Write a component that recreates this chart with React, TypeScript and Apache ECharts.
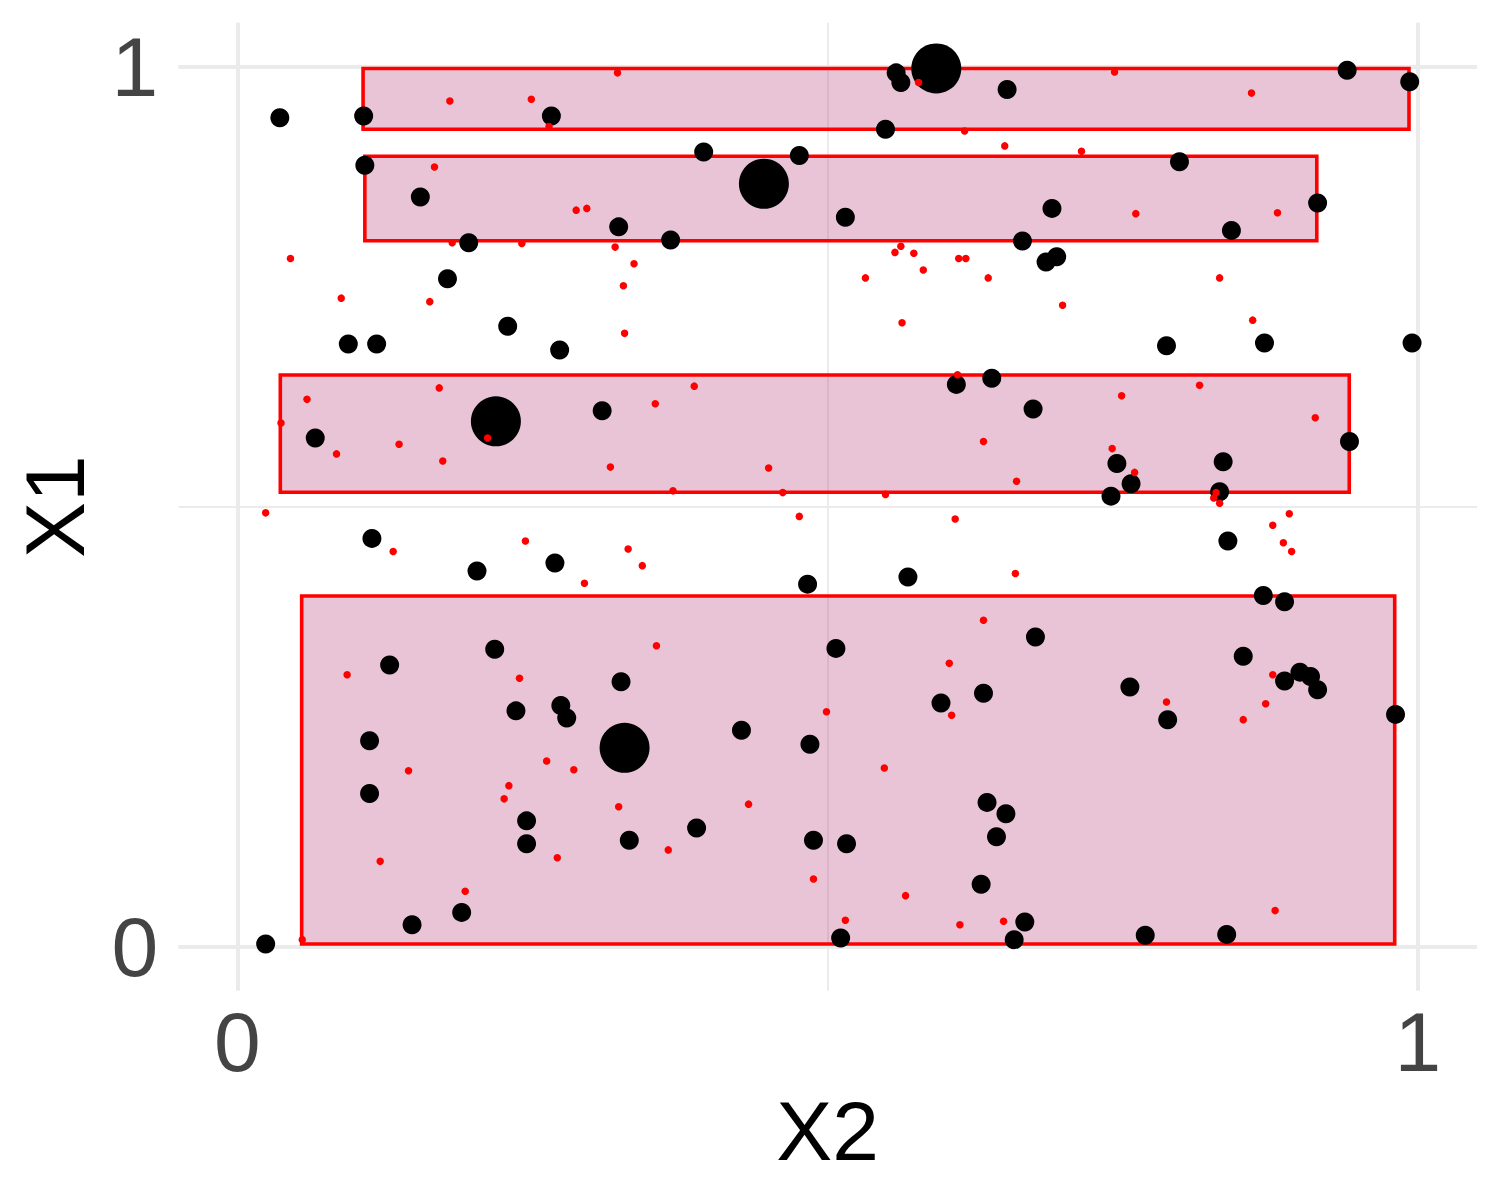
import React, { useEffect, useRef } from "react";
import * as echarts from "echarts";

// Rectangles (X2 range, X1 range)
const rectXMin = [0.1065, 0.108, 0.0364, 0.0545];
const rectXMax = [0.9924, 0.9143, 0.9418, 0.9803];
const rectYMin = [0.929, 0.8023, 0.5164, 0.0031];
const rectYMax = [0.998, 0.8982, 0.6497, 0.3985];

// Large black points [X2, X1]
const bigPts: number[][] = [
  [0.592, 0.998], [0.446, 0.867], [0.219, 0.597], [0.328, 0.226],
];

// Medium black points [X2, X1]
const midPts: number[][] = [
  [0.036, 0.942], [0.107, 0.944], [0.266, 0.944], [0.108, 0.888], [0.155, 0.852],
  [0.196, 0.8], [0.178, 0.759], [0.229, 0.705], [0.094, 0.685], [0.118, 0.685],
  [0.273, 0.678], [0.323, 0.818], [0.558, 0.993], [0.562, 0.982], [0.652, 0.974],
  [0.549, 0.929], [0.395, 0.903], [0.476, 0.899], [0.367, 0.803], [0.515, 0.829],
  [0.665, 0.802], [0.69, 0.839], [0.685, 0.778], [0.694, 0.784], [0.94, 0.996],
  [0.993, 0.983], [0.798, 0.892], [0.915, 0.845], [0.842, 0.814], [0.787, 0.683],
  [0.87, 0.686], [0.995, 0.686], [0.309, 0.609], [0.066, 0.578], [0.114, 0.464],
  [0.203, 0.427], [0.269, 0.436], [0.218, 0.338], [0.129, 0.32], [0.609, 0.639],
  [0.639, 0.646], [0.674, 0.611], [0.483, 0.412], [0.568, 0.42], [0.507, 0.339],
  [0.676, 0.352], [0.942, 0.574], [0.745, 0.549], [0.835, 0.551], [0.757, 0.526],
  [0.74, 0.512], [0.832, 0.517], [0.839, 0.461], [0.869, 0.399], [0.887, 0.392],
  [0.852, 0.33], [0.236, 0.268], [0.274, 0.274], [0.279, 0.26], [0.112, 0.234],
  [0.112, 0.174], [0.245, 0.143], [0.245, 0.117], [0.19, 0.039], [0.148, 0.025],
  [0.024, 0.003], [0.325, 0.301], [0.427, 0.246], [0.485, 0.23], [0.389, 0.135],
  [0.332, 0.121], [0.488, 0.121], [0.516, 0.117], [0.596, 0.277], [0.632, 0.288],
  [0.635, 0.164], [0.651, 0.151], [0.643, 0.125], [0.63, 0.071], [0.667, 0.028],
  [0.658, 0.008], [0.511, 0.01], [0.756, 0.295], [0.788, 0.258], [0.887, 0.302],
  [0.9, 0.312], [0.909, 0.307], [0.915, 0.292], [0.981, 0.264], [0.769, 0.013],
  [0.838, 0.014],
];

// Small red points [X2, X1]
const redPts: number[][] = [
  [0.18, 0.961], [0.249, 0.963], [0.264, 0.932], [0.167, 0.886], [0.287, 0.837],
  [0.296, 0.839], [0.182, 0.8], [0.241, 0.799], [0.32, 0.795], [0.045, 0.782],
  [0.088, 0.737], [0.163, 0.733], [0.322, 0.993], [0.577, 0.982], [0.616, 0.927],
  [0.65, 0.91], [0.336, 0.776], [0.327, 0.751], [0.328, 0.697], [0.562, 0.796],
  [0.557, 0.789], [0.573, 0.788], [0.581, 0.769], [0.532, 0.76], [0.611, 0.782],
  [0.617, 0.782], [0.636, 0.76], [0.563, 0.709], [0.743, 0.994], [0.859, 0.97],
  [0.715, 0.904], [0.761, 0.833], [0.881, 0.834], [0.832, 0.76], [0.699, 0.729],
  [0.86, 0.712], [0.059, 0.622], [0.171, 0.635], [0.037, 0.595], [0.084, 0.56],
  [0.137, 0.571], [0.212, 0.578], [0.174, 0.552], [0.316, 0.545], [0.024, 0.493],
  [0.132, 0.449], [0.244, 0.461], [0.294, 0.413], [0.387, 0.637], [0.354, 0.617],
  [0.45, 0.544], [0.369, 0.518], [0.462, 0.516], [0.549, 0.514], [0.61, 0.65],
  [0.632, 0.574], [0.66, 0.529], [0.476, 0.489], [0.608, 0.486], [0.331, 0.452],
  [0.343, 0.433], [0.659, 0.424], [0.355, 0.342], [0.632, 0.371], [0.603, 0.322],
  [0.749, 0.626], [0.815, 0.638], [0.913, 0.601], [0.741, 0.566], [0.76, 0.539],
  [0.829, 0.516], [0.827, 0.51], [0.832, 0.504], [0.891, 0.492], [0.877, 0.479],
  [0.886, 0.459], [0.893, 0.449], [0.093, 0.309], [0.239, 0.305], [0.145, 0.2],
  [0.262, 0.211], [0.285, 0.201], [0.23, 0.183], [0.226, 0.168], [0.121, 0.097],
  [0.271, 0.101], [0.193, 0.063], [0.055, 0.008], [0.323, 0.159], [0.499, 0.267],
  [0.605, 0.263], [0.548, 0.203], [0.433, 0.162], [0.365, 0.11], [0.488, 0.077],
  [0.566, 0.058], [0.515, 0.03], [0.612, 0.025], [0.649, 0.029], [0.877, 0.309],
  [0.787, 0.278], [0.871, 0.276], [0.852, 0.258], [0.879, 0.041],
];

const tickValues = [0, 1];
const majorGrid = [0, 1];
const minorGrid = [0.5];

const FONT = "'Liberation Sans', Arial, Helvetica, sans-serif";

export default function App() {
  const ref = useRef<HTMLDivElement>(null);

  useEffect(() => {
    if (!ref.current) return;
    const chart = echarts.init(ref.current, undefined, { renderer: "svg" });

    const rectData = rectXMin.map((_, i) => [rectXMin[i], rectXMax[i], rectYMin[i], rectYMax[i]]);
    const gridColor = "#EBEBEB";
    const gridLines: any[] = [];
    majorGrid.forEach((v) => {
      gridLines.push({ xAxis: v, lineStyle: { color: gridColor, width: 4, type: "solid" } });
      gridLines.push({ yAxis: v, lineStyle: { color: gridColor, width: 4, type: "solid" } });
    });
    minorGrid.forEach((v) => {
      gridLines.push({ xAxis: v, lineStyle: { color: gridColor, width: 2, type: "solid" } });
      gridLines.push({ yAxis: v, lineStyle: { color: gridColor, width: 2, type: "solid" } });
    });

    const axisCommon = {
      type: "value",
      min: -0.05,
      max: 1.05,
      axisLine: { show: false },
      axisTick: { show: false },
      splitLine: { show: false },
      nameLocation: "middle",
      nameTextStyle: { fontSize: 84, color: "#000000", fontFamily: FONT },
    };

    chart.setOption({
      animation: false,
      backgroundColor: "#ffffff",
      grid: { left: 178.3, right: 23, top: 22.7, bottom: 209.3, containLabel: false },
      xAxis: {
        ...axisCommon,
        name: "X2",
        nameGap: 97,
        axisLabel: {
          customValues: tickValues,
          fontSize: 84,
          color: "#444444",
          fontFamily: FONT,
          margin: 9,
          formatter: (v: number) => String(v),
        },
      },
      yAxis: {
        ...axisCommon,
        name: "X1",
        nameGap: 81,
        axisLabel: {
          customValues: tickValues,
          fontSize: 84,
          color: "#444444",
          fontFamily: FONT,
          margin: 20,
          formatter: (v: number) => String(v),
        },
      },
      series: [
        {
          type: "scatter",
          data: [],
          z: 0,
          silent: true,
          markLine: {
            silent: true,
            symbol: ["none", "none"],
            label: { show: false },
            data: gridLines,
            z: 0,
          },
        },
        {
          type: "custom",
          z: 1,
          silent: true,
          data: rectData,
          encode: { x: [0, 1], y: [2, 3] },
          renderItem: (params: any, api: any) => {
            const p1 = api.coord([api.value(0), api.value(3)]);
            const p2 = api.coord([api.value(1), api.value(2)]);
            return {
              type: "rect",
              shape: { x: p1[0], y: p1[1], width: p2[0] - p1[0], height: p2[1] - p1[1] },
              style: { fill: "rgba(180,60,120,0.3)", stroke: "#FF0000", lineWidth: 3.6 },
            };
          },
        },
        {
          type: "scatter",
          z: 2,
          silent: true,
          symbol: "circle",
          symbolSize: 19,
          itemStyle: { color: "#000000", opacity: 1 },
          data: midPts,
        },
        {
          type: "scatter",
          z: 2,
          silent: true,
          symbol: "circle",
          symbolSize: 50,
          itemStyle: { color: "#000000", opacity: 1 },
          data: bigPts,
        },
        {
          type: "scatter",
          z: 3,
          silent: true,
          symbol: "circle",
          symbolSize: 7.5,
          itemStyle: { color: "#FF0000", opacity: 1 },
          data: redPts,
        },
      ],
    });

    return () => chart.dispose();
  }, []);

  return (
    <div
      ref={ref}
      style={{ position: "absolute", left: 0, top: 0, width: 1500, height: 1200, background: "#fff" }}
    />
  );
}
